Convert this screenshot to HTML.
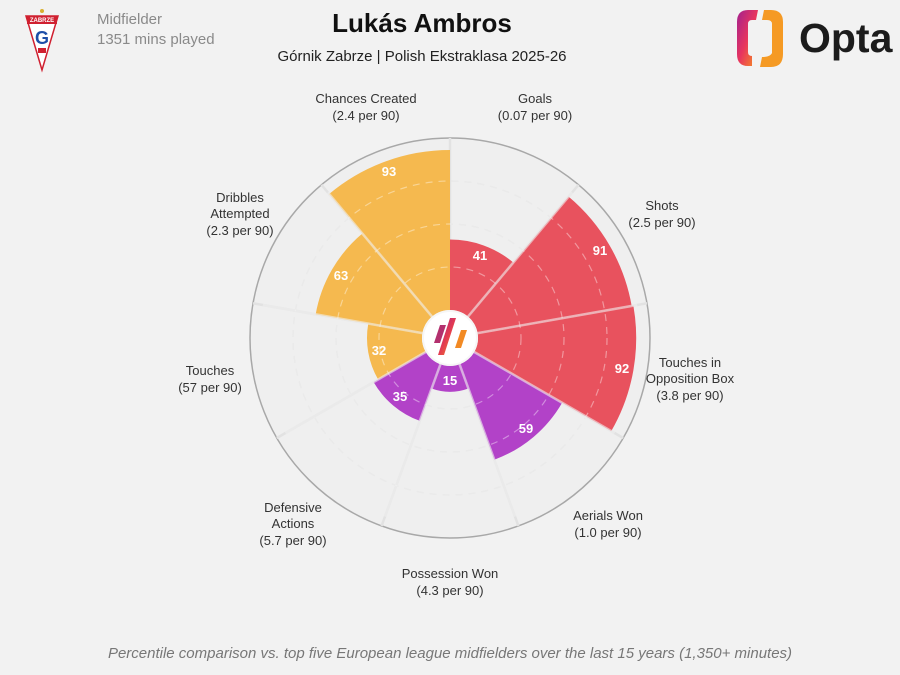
<!DOCTYPE html>
<html><head><meta charset="utf-8"><style>
html,body{margin:0;padding:0;background:#f2f2f2;}
body{width:900px;height:675px;position:relative;overflow:hidden;font-family:"Liberation Sans","DejaVu Sans",sans-serif;}
</style></head><body>
<svg width="900" height="675" viewBox="0 0 900 675" xmlns="http://www.w3.org/2000/svg" style="position:absolute;left:0;top:0">
<defs>
<linearGradient id="og" x1="0" y1="0" x2="1" y2="1"><stop offset="0" stop-color="#a3208f"/><stop offset="0.5" stop-color="#e8355e"/><stop offset="1" stop-color="#f7941d"/></linearGradient>
<linearGradient id="lg" x1="0" y1="0" x2="1" y2="1"><stop offset="0" stop-color="#9b2191"/><stop offset="0.5" stop-color="#e23a52"/><stop offset="1" stop-color="#f7901e"/></linearGradient>
</defs>
<g transform="translate(42,38)">
<polygon points="-16,-22 16,-22 0,32" fill="#ffffff" stroke="#d02030" stroke-width="1.5"/>
<rect x="-15" y="-22" width="30" height="8" fill="#d02030"/>
<text x="0" y="-16" font-size="6" fill="#fff" text-anchor="middle" font-weight="bold">ZABRZE</text>
<text x="0" y="6" font-size="18" fill="#1e4fa8" text-anchor="middle" font-weight="bold">G</text>
<rect x="-4" y="10" width="8" height="5" fill="#d02030"/>
<circle cx="0" cy="-27" r="2" fill="#d8b030"/>
</g>
<text x="97" y="24" font-size="15" fill="#8a8a8a">Midfielder</text>
<text x="97" y="44" font-size="15" fill="#8a8a8a">1351 mins played</text>
<text x="422" y="32" font-size="26" font-weight="bold" fill="#111" text-anchor="middle">Lukás Ambros</text>
<text x="422" y="61" font-size="15" fill="#222" text-anchor="middle">Górnik Zabrze | Polish Ekstraklasa 2025-26</text>
<path d="M758,10 L748,10 Q737,10 737,22 L737,54 Q737,66 748,66 L752,66 L752,56 Q748,56 748,52 L748,24 Q748,20 752,20 L756,20 Z" fill="url(#og)"/>
<path d="M764,10 L771,10 Q783,10 783,22 L783,54 Q783,67 771,67 L760,67 L762,57 Q770,57 772,53 L772,24 Q772,20 767,20 L762,20 Z" fill="#f59a24"/>
<text x="799" y="52" font-size="41" font-weight="bold" fill="#1c1c1c">Opta</text>
<g transform="translate(450,338)">
<circle r="200" fill="#efefef" stroke="#a8a8a8" stroke-width="1.5"/>
<g fill="none" stroke="#dcdcdc" stroke-width="1.2" stroke-dasharray="7 6">
<circle r="71"/><circle r="114"/><circle r="157"/>
</g>
<g stroke="#e2e2e2" stroke-width="2.5">
<line x1="0" y1="-28" x2="0" y2="-200" transform="rotate(0)"/>
<line x1="0" y1="-28" x2="0" y2="-200" transform="rotate(40)"/>
<line x1="0" y1="-28" x2="0" y2="-200" transform="rotate(80)"/>
<line x1="0" y1="-28" x2="0" y2="-200" transform="rotate(120)"/>
<line x1="0" y1="-28" x2="0" y2="-200" transform="rotate(160)"/>
<line x1="0" y1="-28" x2="0" y2="-200" transform="rotate(200)"/>
<line x1="0" y1="-28" x2="0" y2="-200" transform="rotate(240)"/>
<line x1="0" y1="-28" x2="0" y2="-200" transform="rotate(280)"/>
<line x1="0" y1="-28" x2="0" y2="-200" transform="rotate(320)"/>
</g>
<path transform="rotate(20)" fill="#e8525e" d="M-9.58,-26.31 L-33.69,-92.56 A98.5,98.5 0 0 1 33.69,-92.56 L9.58,-26.31 A28,28 0 0 0 -9.58,-26.31Z"/>
<path transform="rotate(60)" fill="#e8525e" d="M-9.58,-26.31 L-63.10,-173.37 A184.5,184.5 0 0 1 63.10,-173.37 L9.58,-26.31 A28,28 0 0 0 -9.58,-26.31Z"/>
<path transform="rotate(100)" fill="#e8525e" d="M-9.58,-26.31 L-63.68,-174.97 A186.2,186.2 0 0 1 63.68,-174.97 L9.58,-26.31 A28,28 0 0 0 -9.58,-26.31Z"/>
<path transform="rotate(140)" fill="#b242c8" d="M-9.58,-26.31 L-44.29,-121.69 A129.5,129.5 0 0 1 44.29,-121.69 L9.58,-26.31 A28,28 0 0 0 -9.58,-26.31Z"/>
<path transform="rotate(180)" fill="#b242c8" d="M-9.58,-26.31 L-18.40,-50.56 A53.8,53.8 0 0 1 18.40,-50.56 L9.58,-26.31 A28,28 0 0 0 -9.58,-26.31Z"/>
<path transform="rotate(220)" fill="#b242c8" d="M-9.58,-26.31 L-30.16,-82.88 A88.2,88.2 0 0 1 30.16,-82.88 L9.58,-26.31 A28,28 0 0 0 -9.58,-26.31Z"/>
<path transform="rotate(260)" fill="#f5b94f" d="M-9.58,-26.31 L-28.39,-78.0 A83,83 0 0 1 28.39,-78.0 L9.58,-26.31 A28,28 0 0 0 -9.58,-26.31Z"/>
<path transform="rotate(300)" fill="#f5b94f" d="M-9.58,-26.31 L-46.65,-128.17 A136.4,136.4 0 0 1 46.65,-128.17 L9.58,-26.31 A28,28 0 0 0 -9.58,-26.31Z"/>
<path transform="rotate(340)" fill="#f5b94f" d="M-9.58,-26.31 L-64.30,-176.66 A188,188 0 0 1 64.30,-176.66 L9.58,-26.31 A28,28 0 0 0 -9.58,-26.31Z"/>
<g fill="none" stroke="rgba(255,255,255,0.4)" stroke-width="1.2" stroke-dasharray="7 6">
<circle r="71"/><circle r="114"/><circle r="157"/>
</g>
<g stroke="rgba(240,240,240,0.6)" stroke-width="2.5">
<line x1="0" y1="-28" x2="0" y2="-190" transform="rotate(40)"/>
<line x1="0" y1="-28" x2="0" y2="-190" transform="rotate(80)"/>
<line x1="0" y1="-28" x2="0" y2="-190" transform="rotate(120)"/>
<line x1="0" y1="-28" x2="0" y2="-190" transform="rotate(160)"/>
<line x1="0" y1="-28" x2="0" y2="-190" transform="rotate(200)"/>
<line x1="0" y1="-28" x2="0" y2="-190" transform="rotate(240)"/>
<line x1="0" y1="-28" x2="0" y2="-190" transform="rotate(280)"/>
<line x1="0" y1="-28" x2="0" y2="-190" transform="rotate(320)"/>
</g>
<circle r="28" fill="#f6f6f6"/>
<circle r="26" fill="#ffffff"/>
<polygon points="-10,-13 -4,-13 -10,5 -16,5" fill="#b3306e"/>
<polygon points="0,-20 6,-20 -6,17 -12,17" fill="url(#lg)"/>
<polygon points="11,-8 17,-8 11,10 5,10" fill="#f28a24"/>
</g>
<g font-size="13" fill="#ffffff" text-anchor="middle" font-weight="bold">
<text x="480" y="260">41</text>
<text x="600" y="255">91</text>
<text x="622" y="373">92</text>
<text x="526" y="433">59</text>
<text x="450" y="385">15</text>
<text x="400" y="401">35</text>
<text x="379" y="355">32</text>
<text x="341" y="280">63</text>
<text x="389" y="176">93</text>
</g>
<g font-size="13" fill="#333" text-anchor="middle">
<text x="366" y="103">Chances Created</text><text x="366" y="120">(2.4 per 90)</text>
<text x="535" y="103">Goals</text><text x="535" y="120">(0.07 per 90)</text>
<text x="662" y="210">Shots</text><text x="662" y="227">(2.5 per 90)</text>
<text x="690" y="367">Touches in</text><text x="690" y="383">Opposition Box</text><text x="690" y="400">(3.8 per 90)</text>
<text x="608" y="520">Aerials Won</text><text x="608" y="537">(1.0 per 90)</text>
<text x="450" y="578">Possession Won</text><text x="450" y="595">(4.3 per 90)</text>
<text x="293" y="512">Defensive</text><text x="293" y="528">Actions</text><text x="293" y="545">(5.7 per 90)</text>
<text x="210" y="375">Touches</text><text x="210" y="392">(57 per 90)</text>
<text x="240" y="202">Dribbles</text><text x="240" y="218">Attempted</text><text x="240" y="235">(2.3 per 90)</text>
</g>
<text x="450" y="658" font-size="15" font-style="italic" fill="#777" text-anchor="middle">Percentile comparison vs. top five European league midfielders over the last 15 years (1,350+ minutes)</text>
</svg>
</body></html>
